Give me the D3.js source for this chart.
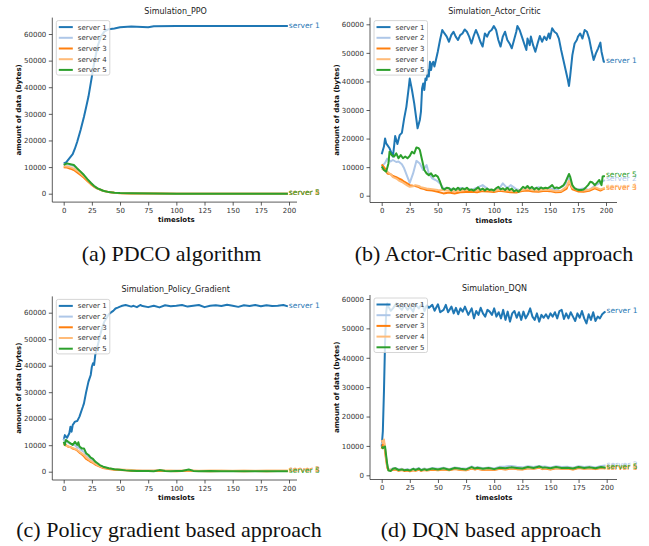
<!DOCTYPE html>
<html>
<head>
<meta charset="utf-8">
<script src="https://cdn.jsdelivr.net/npm/d3@7"></script>
<style>
  body { margin: 0; background: #fff; }
  text { font-family: "DejaVu Sans", sans-serif; }
</style>
</head>
<body>
<div id="chart"></div>
<script>
// ---- data ----
const seriesNames = ['server 1', 'server 2', 'server 3', 'server 4', 'server 5'];
const colors = ['#1f77b4', '#aec7e8', '#ff7f0e', '#ffbb78', '#2ca02c'];
const xTicks = [0, 25, 50, 75, 100, 125, 150, 175, 200];
const yTicks = [0, 10000, 20000, 30000, 40000, 50000, 60000];

// (a) PPO
const ppoT1 = [0,2,5,8,10,12,15,18,20,22,25,27,30,33,36,40,45,50,60,75,80,100,125,150,175,199];
const ppoS1 = [11400,11700,13300,14900,17000,19500,23900,28900,32700,36500,44000,49000,55200,59000,60900,61800,62100,62500,62800,62500,62900,63000,63000,63000,63000,63000];
const ppoT2 = [0,3,6,9,12,15,18,21,24,27,30,35,40,45,50,60,80,100,150,199];
const ppoS2 = [11000,11100,10800,10400,9300,8100,6800,5400,4000,2900,2000,1100,600,400,250,150,50,0,0,0];
const ppoS3 = [9900,9800,9400,8900,8000,7000,6000,4800,3600,2600,1900,1100,600,350,200,100,30,0,0,0];
const ppoS4 = [10300,10200,9900,9400,8600,7600,6500,5200,3900,2800,2000,1100,600,380,220,120,40,0,0,0];
const ppoS5 = [10800,11400,11100,10800,9500,8300,7000,5500,4100,2900,2000,1100,600,400,250,150,50,0,0,0];

// (b) Actor-Critic
const acT1 = [0,2,3,4,7,10,11,12,14,16,18,20,22,24,25,27,29,31,32,34,35,36,37,38,39,40,41,42,43,44,45,46,47,48,50,52,54,56,58,60,62,64,66,68,70,72,74,76,78,80,82,84,86,88,90,92,94,96,98,100,102,104,106,108,110,112,114,116,118,120,121,123,125,127,129,130,132,133,135,137,139,141,143,145,147,149,150,152,154,156,158,160,162,164,166,167,168,170,172,174,175,177,179,181,183,185,187,189,191,193,195,196,198,199];
const acS1 = [14500,17200,20000,18300,16600,13700,17200,20900,18100,21200,22000,27000,31100,37500,41000,37000,32300,26500,23600,26500,29400,37500,39300,37000,41000,40500,44000,41700,46900,44000,46300,46900,45200,46900,50400,54500,58000,56800,55700,53900,56200,57400,55700,54500,56200,56800,58200,57400,55700,53300,55900,58000,56200,53900,52200,56800,55700,57400,58000,59400,58000,54500,52200,55700,57400,54500,53300,51600,54500,57400,59400,58000,55700,53300,51000,55000,52700,55700,52700,50400,53300,55900,53900,55700,54500,56800,55000,58600,57400,56800,55000,51000,47500,44000,40500,38400,41700,49200,53300,54500,55700,56800,55000,58000,57400,55000,51000,47500,49800,51600,53600,50400,46900,46900];
const acT2 = [0,3,5,8,10,13,15,18,20,23,25,28,31,34,37,40,42,45,48,50,52,55,60,65,70,75,80,85,90,95,100,105,108,112,115,120,125,130,135,140,145,150,155,160,164,166,168,170,175,180,185,190,195,199];
const acS2 = [10200,11500,13000,12000,12500,11800,12000,11000,9600,6500,4500,7800,12200,11300,9000,10700,7800,6100,5500,5000,4300,2600,2500,2200,2700,2400,2000,2800,3700,2200,1800,2600,4300,2600,3700,2300,1800,2800,2500,3000,2200,2600,2000,3000,4000,6700,5000,3000,2200,2500,2000,3500,4500,5500];
const acT3 = [0,3,5,8,10,13,15,18,20,23,25,28,30,33,35,38,40,45,50,55,60,65,70,75,80,85,90,95,100,105,110,115,120,125,130,135,140,145,150,155,160,165,167,170,175,180,185,190,195,199];
const acS3 = [11000,9500,7800,7500,6900,6500,6100,5500,4900,4200,3700,3500,3400,3000,2600,2300,2000,1800,1400,800,1100,800,1200,1300,1400,1200,1600,1500,1300,1700,1500,1200,1100,1600,1800,1500,1400,1700,1600,1200,1300,2500,4900,2200,1500,1400,1700,2600,1800,2600];
const acS4 = [9500,8800,8400,7500,6500,6000,5400,4800,4300,3500,3100,3300,3700,3400,3000,2700,2500,2300,2000,1900,1700,1500,1800,2000,2000,1800,2200,2000,1700,2100,1900,1700,1600,2000,2300,1900,1800,2100,2000,1600,1700,3200,5200,2800,2000,1800,2100,3000,2200,2700];
const acT5 = [0,2,4,6,7,9,11,13,15,17,19,21,23,25,27,29,31,33,34,36,38,40,42,44,46,48,50,52,54,56,58,60,62,64,66,68,70,72,74,76,78,80,82,84,86,88,90,92,94,96,98,100,102,104,106,108,110,112,114,116,118,120,122,124,126,128,130,132,134,136,138,140,142,144,146,148,150,152,154,156,158,160,162,164,166,167,168,170,172,174,176,178,180,182,184,186,188,190,192,194,196,197,199];
const acS5 = [10200,9000,8400,11300,15400,14200,13700,14800,13100,14200,13100,13700,13100,13900,15400,14800,16900,16600,16000,12500,9000,7800,7200,7800,6700,7200,6700,4900,2600,2200,2800,2600,1800,2600,2000,2800,2000,2600,2200,2800,2000,2200,1800,2300,2900,2000,2500,1800,2500,2000,2200,1800,2600,3100,2200,2600,2000,2800,2000,2500,1500,2000,1400,2200,3100,2600,3400,2500,3100,2200,2800,2200,2900,2500,2800,2600,3100,3700,2600,2900,2600,3100,3600,4900,6700,7600,6700,3700,2600,2200,2000,2000,2200,2900,3700,4900,4600,3700,4600,5500,3700,6700,6900];

// (c) Policy gradient
const pgT1 = [0,1,3,5,6,7,8,10,12,14,16,17,18,20,21,22,24,25,26,27,28,30,32,34,36,38,40,42,44,46,48,50,52,55,60,62,65,68,70,75,80,85,90,95,100,105,110,115,120,125,130,135,140,145,150,155,160,165,170,175,180,185,190,195,199];
const pgS1 = [11900,13800,12800,14500,17000,15100,17600,18900,19100,20800,23300,24500,25800,30200,32100,34000,36500,39600,40900,40300,44000,47200,50900,54100,56600,57900,59400,60100,60700,61600,61900,62300,62600,62900,62300,62600,62100,62900,62500,62100,62600,62000,62800,62400,62600,62900,62300,62600,62900,62100,62600,62800,62500,63000,62600,62200,62800,62500,62900,62400,62800,62500,62600,62900,62400];
const pgT2 = [0,1,2,4,6,8,10,12,13,14,16,18,20,22,24,26,28,30,32,35,40,45,50,55,60,65,70,75,80,85,90,95,100,105,111,115,120,130,140,150,160,170,180,190,199];
const pgS2 = [12500,11500,11800,11000,10500,10300,10000,9000,9500,8800,8000,7500,6200,5600,4800,4200,3500,2900,2300,1800,1200,900,700,600,500,400,400,350,400,500,350,300,350,300,500,350,300,300,300,250,300,250,300,250,300];
const pgS3 = [10700,10300,10100,9400,9300,8700,8500,8000,7600,7200,6600,5800,4800,4300,3700,3300,2700,2300,1900,1400,1000,700,600,500,400,350,300,250,300,400,250,300,200,250,350,300,250,200,300,250,200,250,200,250,300];
const pgS4 = [10200,10000,9800,9600,9200,9000,8600,8200,7900,7500,6900,6300,5400,4700,4100,3600,3000,2500,2100,1600,1200,900,800,700,600,500,500,450,500,550,450,500,400,450,500,450,400,450,500,400,450,400,450,500,500];
const pgS5 = [11300,10100,12000,11300,10700,10100,11300,10100,11100,9500,8800,8800,6900,6300,5300,4800,3800,3200,2500,1900,1300,900,750,500,400,300,250,300,200,600,300,200,250,300,800,300,200,250,200,150,200,150,200,150,200];

// (d) DQN
const dqT1 = [0,1,2,3,4,5,6,8,10,13,15,18,20,23,25,28,30,33,36,38,40,42,45,47,50,52,55,57,59,62,64,66,68,70,72,74,77,80,82,84,86,88,90,92,94,96,98,100,102,104,106,108,110,112,114,116,118,120,122,124,126,128,130,132,134,136,138,140,142,144,146,148,150,152,154,156,158,160,162,164,166,168,170,172,174,176,178,180,182,184,186,188,190,192,194,196,198,199];
const dqS1 = [9800,14900,28500,45500,55700,58500,57400,56000,56800,58500,57400,56300,58000,56300,57400,55700,58200,56800,58500,55900,57800,57000,58000,56000,58200,55500,56300,58000,55500,57400,55100,57000,54800,56800,55700,57400,54600,56800,53400,55900,54600,57000,55100,54000,56300,55700,54600,56800,54000,55500,53400,56300,52900,55700,52300,55100,55900,53600,55500,52900,55700,53400,54800,56800,54000,52900,55100,52300,54600,53600,54800,53400,55100,54000,55500,53400,55900,56300,53200,55100,53400,55500,54000,52500,55100,53600,55900,53400,51700,54800,52900,55500,52500,54000,53400,54800,55500,55700];
const dqT2 = [0,1,2,3,4,5,6,8,10,12,15,18,20,23,25,28,30,33,35,38,40,45,50,55,60,65,70,75,80,83,85,90,95,100,105,110,115,120,125,130,135,140,143,145,150,155,160,165,170,175,180,185,190,195,199];
const dqS2 = [10500,11500,9500,9000,6000,3200,2000,2000,2300,2500,2000,2200,1900,2100,1800,2300,2000,2500,1900,2300,2000,2500,2200,2600,2100,2700,2400,2200,3000,2500,2800,2400,2700,2300,2900,3000,3200,2900,2700,3100,2800,3200,2900,3000,2700,3100,2800,2900,2600,3100,2800,3000,2700,3200,3300];
const dqS3 = [9000,10500,11500,8000,5000,2500,1800,1700,1800,2000,1500,1800,1500,1600,1400,1700,1500,1900,1500,1800,1600,1900,1700,2000,1700,2100,1800,1700,2300,2000,2200,1800,2000,1800,2200,2000,2300,2100,2000,2400,2200,2600,2100,2300,2000,2400,2200,2300,2000,2500,2200,2400,2100,2500,2300];
const dqS4 = [12000,11000,12200,9000,5500,3000,2000,1900,2000,2200,1700,2000,1800,1800,1600,1900,1700,2100,1700,2000,1800,2100,1900,2200,1900,2300,2000,1900,2500,2200,2400,2000,2300,2000,2400,2200,2500,2300,2200,2600,2400,2700,2300,2500,2200,2600,2400,2500,2200,2700,2400,2600,2300,2700,2500];
const dqS5 = [9800,9200,9600,9800,6500,3500,1600,1500,2200,2400,1800,2000,1700,1900,1600,2200,1800,2300,1700,2100,1800,2300,2000,2400,1900,2500,2200,2000,2800,2300,2600,2200,2500,2100,2600,2400,2700,2500,2300,2800,2500,3000,2600,2700,2400,2800,2500,2600,2300,2800,2500,2700,2400,2800,2600];

// ---- panels: pixel frame of each axes + its series ----
const panels = [
  { title: 'Simulation_PPO', caption: '(a) PDCO algorithm',
    x0: 63.7, x200: 289, yZero: 193.7, y60: 34, left: 52.3, right: 297, top: 17.6, bottom: 202.1,
    capX: 171.5, capY: 261,
    series: [[ppoT1, ppoS1], [ppoT2, ppoS2], [ppoT2, ppoS3], [ppoT2, ppoS4], [ppoT2, ppoS5]] },
  { title: 'Simulation_Actor_Critic', caption: '(b) Actor-Critic based approach',
    x0: 381.7, x200: 606, yZero: 195.7, y60: 24.3, left: 370, right: 617, top: 17.6, bottom: 202.5,
    capX: 494, capY: 261,
    series: [[acT1, acS1], [acT2, acS2], [acT3, acS3], [acT3, acS4], [acT5, acS5]] },
  { title: 'Simulation_Policy_Gradient', caption: '(c) Policy gradient based approach',
    x0: 63.7, x200: 289, yZero: 471.7, y60: 312.7, left: 52.3, right: 297, top: 296.4, bottom: 480,
    capX: 169, capY: 537,
    series: [[pgT1, pgS1], [pgT2, pgS2], [pgT2, pgS3], [pgT2, pgS4], [pgT2, pgS5]] },
  { title: 'Simulation_DQN', caption: '(d) DQN based approach',
    x0: 381.7, x200: 606.7, yZero: 475.3, y60: 299, left: 370, right: 617, top: 295, bottom: 479.5,
    capX: 491, capY: 537,
    series: [[dqT1, dqS1], [dqT2, dqS2], [dqT2, dqS3], [dqT2, dqS4], [dqT2, dqS5]] }
];

const svg = d3.select('#chart').append('svg')
  .attr('width', 649)
  .attr('height', 546);

svg.append('rect').attr('width', 649).attr('height', 546).attr('fill', '#fff');

panels.forEach(p => drawPanel(p));

function drawPanel(p) {
  const x = d3.scaleLinear().domain([0, 200]).range([p.x0, p.x200]);
  const y = d3.scaleLinear().domain([0, 60000]).range([p.yZero, p.y60]);
  const g = svg.append('g');

  // lines, server 1 first so server 5 ends on top
  const line = d3.line().x(d => x(d[0])).y(d => y(d[1]));
  p.series.forEach((s, i) => {
    g.append('path')
      .datum(d3.zip(s[0], s[1]))
      .attr('fill', 'none')
      .attr('stroke', colors[i])
      .attr('stroke-width', 2)
      .attr('stroke-linejoin', 'round')
      .attr('d', line);
  });

  // end labels
  p.series.forEach((s, i) => {
    const n = s[0].length - 1;
    g.append('text')
      .attr('x', x(s[0][n]) + 1)
      .attr('y', y(s[1][n]) + 1.5)
      .attr('fill', colors[i])
      .attr('font-size', 7.5)
      .text(seriesNames[i]);
  });

  // axes: only left + bottom spines
  const xAxis = g.append('g')
    .attr('transform', 'translate(0,' + p.bottom + ')')
    .call(d3.axisBottom(x).tickValues(xTicks).tickSize(3.5).tickPadding(2.5));
  xAxis.select('.domain').attr('d', 'M' + p.left + ',0H' + p.right);

  const yAxis = g.append('g')
    .attr('transform', 'translate(' + p.left + ',0)')
    .call(d3.axisLeft(y).tickValues(yTicks).tickSize(3.5).tickPadding(2.5).tickFormat(d3.format('d')));
  yAxis.select('.domain').attr('d', 'M0,' + p.top + 'V' + p.bottom);

  g.selectAll('.domain').attr('stroke', '#333').attr('stroke-width', 0.8);
  g.selectAll('.tick line').attr('stroke', '#333').attr('stroke-width', 0.8);
  g.selectAll('.tick text').attr('fill', '#333').attr('font-size', 7)
    .attr('font-family', '"DejaVu Sans", sans-serif');

  // title and axis labels
  g.append('text')
    .attr('x', (p.left + p.right) / 2 + 1)
    .attr('y', p.top - 4)
    .attr('text-anchor', 'middle')
    .attr('font-size', 8)
    .attr('fill', '#222')
    .text(p.title);

  g.append('text')
    .attr('x', (p.x0 + p.x200) / 2)
    .attr('y', p.bottom + 20)
    .attr('text-anchor', 'middle')
    .attr('font-size', 7)
    .attr('font-weight', 'bold')
    .attr('fill', '#111')
    .text('timeslots');

  g.append('text')
    .attr('transform', 'translate(' + (p.left - 31) + ',' + ((p.top + p.bottom) / 2) + ') rotate(-90)')
    .attr('text-anchor', 'middle')
    .attr('font-size', 7)
    .attr('font-weight', 'bold')
    .attr('fill', '#111')
    .text('amount of data (bytes)');

  // legend box, upper left
  const lg = g.append('g').attr('transform', 'translate(' + (p.left + 4) + ',' + (p.top + 3) + ')');
  lg.append('rect')
    .attr('width', 53.5).attr('height', 54.5)
    .attr('rx', 2)
    .attr('fill', '#fff').attr('fill-opacity', 0.8)
    .attr('stroke', '#ccc').attr('stroke-width', 0.8);
  seriesNames.forEach((name, i) => {
    const ry = 6.5 + i * 10.7;
    lg.append('line')
      .attr('x1', 2.5).attr('x2', 16.5)
      .attr('y1', ry).attr('y2', ry)
      .attr('stroke', colors[i]).attr('stroke-width', 2);
    lg.append('text')
      .attr('x', 21.5).attr('y', ry + 2.5)
      .attr('font-size', 7)
      .attr('fill', '#333')
      .text(name);
  });

  // sub-caption under the panel
  svg.append('text')
    .attr('x', p.capX)
    .attr('y', p.capY)
    .attr('text-anchor', 'middle')
    .style('font-family', '"Liberation Serif", "Times New Roman", serif')
    .attr('font-size', 22)
    .attr('fill', '#111')
    .text(p.caption);
}
</script>
</body>
</html>
